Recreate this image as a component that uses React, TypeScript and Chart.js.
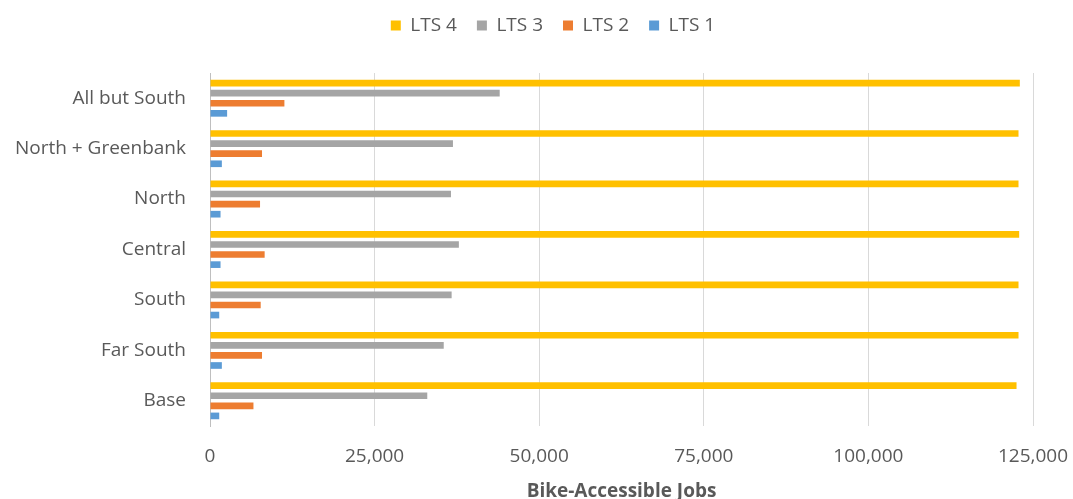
import React, { useEffect, useRef } from "react";
import { Chart, registerables } from "chart.js";

Chart.register(...registerables);

const categories = [
  "All but South",
  "North + Greenbank",
  "North",
  "Central",
  "South",
  "Far South",
  "Base",
];
const seriesLabels = ["LTS 4", "LTS 3", "LTS 2", "LTS 1"];
const lts4 = [123000, 122800, 122800, 122900, 122800, 122800, 122500];
const lts3 = [44000, 36900, 36600, 37800, 36700, 35500, 33000];
const lts2 = [11300, 7900, 7600, 8300, 7700, 7900, 6600];
const lts1 = [2600, 1800, 1600, 1600, 1400, 1800, 1400];
const seriesColors = ["#FFC000", "#A5A5A5", "#ED7D31", "#5B9BD5"];
const xMin = 0;
const xMax = 125000;
const xStep = 25000;
const axisTitle = "Bike-Accessible Jobs";

const FONT = "'Open Sans', sans-serif";
const TEXT = "#595959";

export default function App() {
  const ref = useRef<HTMLCanvasElement | null>(null);

  useEffect(() => {
    if (!ref.current) return;
    const values = [lts4, lts3, lts2, lts1];
    const legendFit = {
      id: "legendFit",
      beforeInit(chart: any) {
        const orig = chart.legend.fit;
        chart.legend.fit = function fit() {
          orig.bind(chart.legend)();
          this.height = 77;
        };
      },
      afterLayout(chart: any) {
        if (chart.legend) chart.legend.left += 73;
      },
    };
    const chart = new Chart(ref.current, {
      type: "bar",
      data: {
        labels: categories,
        datasets: seriesLabels.map((label, i) => ({
          label,
          data: values[i],
          backgroundColor: seriesColors[i],
          borderWidth: 0,
          categoryPercentage: 0.8,
          barPercentage: 0.66,
        })),
      },
      options: {
        indexAxis: "y",
        animation: false,
        responsive: false,
        maintainAspectRatio: false,
        layout: { padding: { left: 0, right: 40, top: -4, bottom: 0 } },
        plugins: {
          legend: {
            position: "top",
            align: "center",
            labels: {
              boxWidth: 10,
              boxHeight: 10,
              padding: 20,
              color: TEXT,
              font: { family: FONT, size: 19 },
            },
          },
          tooltip: { enabled: false },
        },
        scales: {
          x: {
            type: "linear",
            min: xMin,
            max: xMax,
            afterFit(scale: any) {
              scale.height = 73;
              scale.paddingLeft = 0;
              scale.paddingRight = 0;
            },
            ticks: {
              stepSize: xStep,
              padding: 19,
              color: TEXT,
              font: { family: FONT, size: 19 },
              callback: (v: any) => Number(v).toLocaleString("en-US"),
            },
            grid: {
              color: "#D9D9D9",
              lineWidth: 1,
              drawTicks: false,
              tickLength: 0,
            },
            border: { display: false },
            title: {
              display: true,
              text: axisTitle,
              color: TEXT,
              font: { family: FONT, size: 19, weight: "bold" },
              padding: { top: 0, bottom: -4 },
            },
          },
          y: {
            afterFit(scale: any) {
              scale.width = 210;
            },
            ticks: {
              padding: 24,
              color: TEXT,
              font: { family: FONT, size: 19 },
            },
            grid: { display: false, drawTicks: false, tickLength: 0 },
            border: { display: true, color: "#BFBFBF", width: 1 },
          },
        },
      },
      plugins: [legendFit],
    });
    return () => chart.destroy();
  }, []);

  return (
    <div
      style={{
        position: "absolute",
        left: 0,
        top: 0,
        width: 1073,
        height: 499,
        background: "#ffffff",
      }}
    >
      <canvas ref={ref} width={1073} height={499} />
    </div>
  );
}
